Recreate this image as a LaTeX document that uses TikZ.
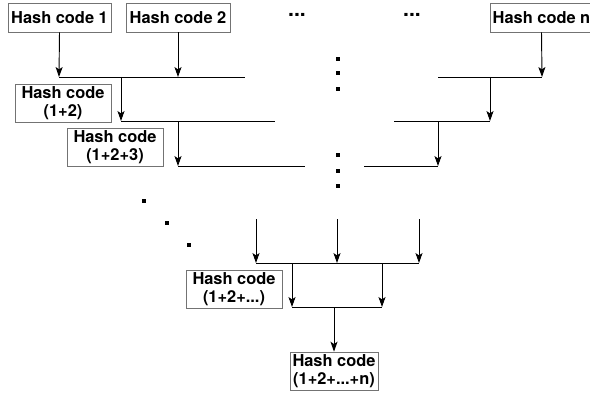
\documentclass[tikz,border=0pt]{standalone}
\usepackage{fontspec}
\setmainfont{TeX Gyre Heros}
\usepackage{tikz}
\usetikzlibrary{arrows.meta,calc}

\tikzset{
  hashbox/.style={draw=black!55, line width=0.6pt, fill=white, align=center,
    inner sep=0pt, minimum height=29*0.03cm,
    font=\fontsize{14}{15.5}\selectfont\bfseries},
  sumbox/.style={hashbox, minimum height=38*0.03cm},
  link/.style={-{Stealth[length=8.5pt,width=6pt,inset=2pt]}, line width=0.8pt},
  bus/.style={line width=0.8pt},
  pt/.style={rectangle, fill, inner sep=0pt, minimum size=2.8pt},
  gap/.style={font=\fontsize{18}{18}\selectfont\bfseries},
}

\begin{document}
\begin{tikzpicture}[x=0.03cm,y=-0.03cm]
\useasboundingbox (0,0) rectangle (590,395);

% input hash codes
\node[hashbox, minimum width=103*0.03cm] (h1) at (59.5,17.5) {Hash code 1};
\node[hashbox, minimum width=104*0.03cm] (h2) at (178,17.5) {Hash code 2};
\node[hashbox, minimum width=103*0.03cm] (hn) at (541.5,17.5) {Hash code n};
\node[gap] (e1) at (297,15) {...};
\node[gap] (e2) at (412,15) {...};

% partial sums
\node[sumbox, minimum width=96*0.03cm] (s12) at (63,103) {Hash code\\(1+2)};
\node[sumbox, minimum width=96*0.03cm] (s123) at (115,147.5) {Hash code\\(1+2+3)};
\node[sumbox, minimum width=96*0.03cm] (sx) at (234,289) {Hash code\\(1+2+...)};
\node[sumbox, minimum width=88*0.03cm] (sn) at (334,371) {Hash code\\(1+2+...+n)};

% bus lines
\coordinate (a1) at (59,77);   \coordinate (a2) at (245,77);
\coordinate (b1) at (121,121); \coordinate (b2) at (275,121);
\coordinate (c1) at (178,166); \coordinate (c2) at (305,166);
\coordinate (a3) at (438,77);  \coordinate (a4) at (542,77);
\coordinate (b3) at (394,121); \coordinate (b4) at (490,121);
\coordinate (c3) at (364,166); \coordinate (c4) at (438,166);
\coordinate (d1) at (256,263); \coordinate (d2) at (419,263);
\coordinate (f1) at (292,307); \coordinate (f2) at (382,307);
\foreach \l/\r in {a1/a2,b1/b2,c1/c2,a3/a4,b3/b4,c3/c4,d1/d2,f1/f2}
  \draw[bus] (\l) -- (\r);

% left stairs
\draw[link] (h1.south) -- (a1);
\draw[link] (h2.south) -- (h2.south |- a1);
\draw[link] (b1 |- a1) -- (b1);
\draw[link] (c1 |- b1) -- (c1);

% right stairs
\draw[link] (hn.south) -- (a4);
\draw[link] (b4 |- a4) -- (b4);
\draw[link] (c4 |- b4) -- (c4);

% last level
\coordinate (g1) at (256,219);
\coordinate (g2) at (337,219);
\coordinate (g3) at (419,219);
\draw[link] (g1) -- (d1);
\draw[link] (g2) -- (g2 |- d1);
\draw[link] (g3) -- (d2);
\draw[link] (f1 |- d1) -- (f1);
\draw[link] (f2 |- d1) -- (f2);
\draw[link] (sn.north |- f1) -- (sn.north);

% dots
\foreach \y in {59,73,89,155,171,186}
  \node[pt] at (338,\y) {};
\foreach \x/\y in {144/201,167/223,189/245}
  \node[pt] at (\x,\y) {};
\end{tikzpicture}
\end{document}
